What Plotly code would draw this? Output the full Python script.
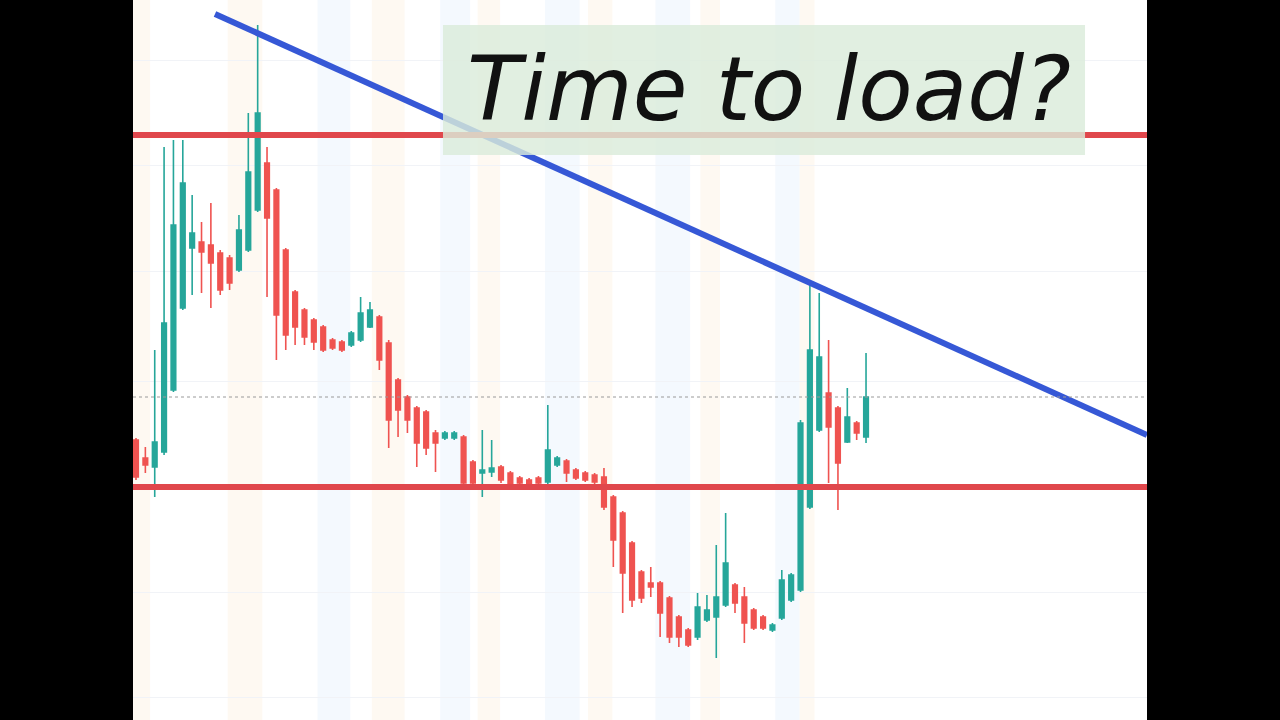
import plotly.graph_objects as go

# ---- data (price units) ----
opens = [280, 262, 253, 268, 330, 412, 472, 478, 475, 467, 462, 450, 470, 510, 557, 530, 470, 428, 410, 400,
         393, 380, 378, 375, 380, 393, 403, 377, 340, 323, 312, 308, 287, 282, 282, 283, 258, 247, 248, 253,
         247, 242, 240, 242, 238, 255, 259, 250, 247, 245, 243, 223, 207, 177, 148, 137, 137, 122, 103, 90,
         83, 100, 103, 115, 135, 123, 110, 103, 90, 102, 120, 130, 213, 290, 327, 312, 278, 297, 283]
highs = [282, 273, 370, 573, 580, 580, 525, 498, 517, 470, 465, 505, 607, 695, 573, 532, 472, 430, 412, 402,
         395, 382, 380, 389, 423, 418, 405, 380, 342, 325, 314, 310, 290, 289, 289, 285, 260, 290, 280, 255,
         249, 244, 242, 244, 315, 264, 261, 252, 249, 247, 252, 225, 209, 179, 150, 153, 139, 124, 105, 92,
         127, 125, 175, 207, 137, 133, 112, 105, 97, 150, 147, 300, 437, 427, 380, 314, 332, 299, 367]
lows = [240, 247, 223, 265, 328, 410, 425, 427, 412, 425, 430, 448, 468, 508, 423, 360, 370, 375, 375, 370,
        368, 370, 368, 373, 378, 392, 350, 272, 283, 287, 253, 265, 248, 280, 280, 235, 234, 223, 243, 237,
        233, 235, 233, 235, 236, 253, 238, 240, 238, 236, 210, 153, 107, 113, 117, 123, 83, 77, 73, 73,
        80, 98, 62, 113, 107, 77, 90, 90, 88, 100, 118, 128, 211, 288, 237, 210, 277, 280, 277]
closes = [243, 255, 278, 397, 495, 537, 487, 468, 457, 430, 437, 490, 548, 607, 502, 405, 385, 393, 383, 378,
          370, 372, 370, 387, 407, 410, 360, 300, 310, 300, 277, 272, 277, 287, 287, 237, 237, 250, 252, 240,
          235, 237, 235, 237, 270, 262, 247, 242, 240, 238, 213, 180, 147, 120, 122, 133, 107, 83, 83, 75,
          113, 110, 123, 157, 117, 97, 92, 92, 95, 140, 145, 297, 370, 363, 293, 257, 303, 287, 323]
bars = list(range(len(opens)))

levels = [585, 233]          # horizontal support / resistance
last_price = 323             # dotted price line
trend_x = [8.44, 108.02]     # descending trendline (bar index)
trend_y = [706, 285]         # descending trendline (price)
grid_prices = [23, 128, 233, 339, 449, 555, 660]
blue_bands = [(19.4, 22.9), (32.5, 35.7), (43.7, 47.4), (55.5, 59.2), (68.3, 70.9)]
orange_bands = [(-0.3, 1.5), (9.8, 13.5), (25.2, 28.7), (36.5, 38.9), (48.3, 50.9), (60.3, 62.4), (70.9, 72.5)]
title_text = "Time to load?"

UP = "#26a69a"
DOWN = "#ef5350"

fig = go.Figure()
fig.add_trace(go.Candlestick(
    x=bars, open=opens, high=highs, low=lows, close=closes,
    increasing=dict(line=dict(color=UP, width=1.6), fillcolor=UP),
    decreasing=dict(line=dict(color=DOWN, width=1.6), fillcolor=DOWN),
    showlegend=False, hoverinfo="skip",
))

# trendline
fig.add_trace(go.Scatter(x=trend_x, y=trend_y, mode="lines",
                         line=dict(color="#3658d6", width=6), showlegend=False, hoverinfo="skip"))

shapes = []
for a, b in blue_bands:
    shapes.append(dict(type="rect", xref="x", yref="paper", x0=a, x1=b, y0=0, y1=1,
                       fillcolor="rgba(200,225,248,0.2)", line=dict(width=0), layer="below"))
for a, b in orange_bands:
    shapes.append(dict(type="rect", xref="x", yref="paper", x0=a, x1=b, y0=0, y1=1,
                       fillcolor="rgba(252,225,190,0.2)", line=dict(width=0), layer="below"))
for lv in levels:
    shapes.append(dict(type="line", xref="paper", yref="y", x0=0, x1=1, y0=lv, y1=lv,
                       line=dict(color="#e0474c", width=6), layer="above"))
shapes.append(dict(type="line", xref="paper", yref="y", x0=0, x1=1, y0=last_price, y1=last_price,
                   line=dict(color="#9a9a9a", width=1, dash="dot"), layer="above"))
# label box
shapes.append(dict(type="rect", xref="paper", yref="paper", x0=0.3057, x1=0.9389, y0=0.7847, y1=0.9653,
                   fillcolor="rgba(218,235,218,0.82)", line=dict(width=0), layer="above"))

fig.update_layout(
    width=1280, height=720,
    margin=dict(l=133, r=133, t=0, b=0),
    paper_bgcolor="#000000", plot_bgcolor="#ffffff",
    shapes=shapes,
    showlegend=False,
    annotations=[dict(text="<i>" + title_text + "</i>", xref="paper", yref="paper",
                      x=0.6277, y=0.877, xanchor="center", yanchor="middle", showarrow=False,
                      font=dict(family="DejaVu Sans", size=89, color="#111111"))],
    xaxis=dict(range=[-0.3205, 108.02], showgrid=False, zeroline=False, showticklabels=False,
               rangeslider=dict(visible=False), showline=True, linecolor="#bdbdbd", linewidth=2,
               mirror=False, fixedrange=True),
    yaxis=dict(range=[0, 720], tickvals=grid_prices, showticklabels=False, gridcolor="#f1f3f7",
               zeroline=False, fixedrange=True),
)

fig.write_html("out.html", config={"displayModeBar": False},
               post_script="document.body.style.margin='0';document.body.style.overflow='hidden';")
